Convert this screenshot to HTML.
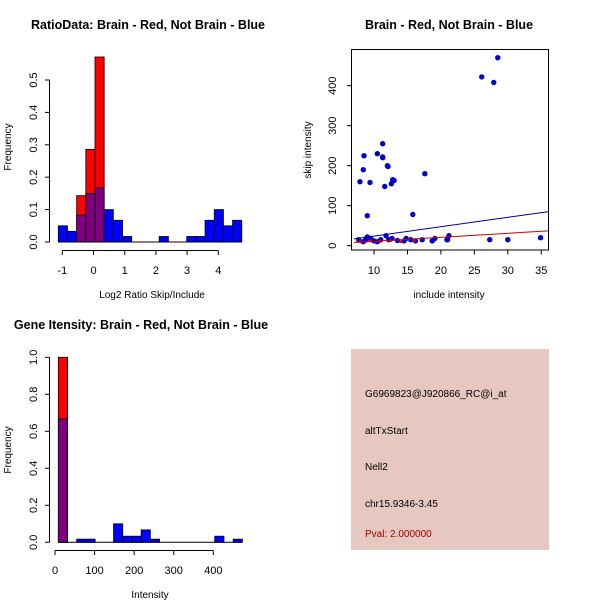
<!DOCTYPE html>
<html><head><meta charset="utf-8"><style>
body{margin:0;background:#fff;}
svg{display:block;font-family:"Liberation Sans",sans-serif;}
</style></head><body>
<svg id="c" width="600" height="600" viewBox="0 0 600 600">
<rect width="600" height="600" fill="#fff"/>
</svg>
<script>
// Panel 1: ratio histogram
const ratioStart = -1.128, ratioWidth = 0.294;
const ratioBlue = [0.05,0.033,0.083,0.15,0.167,0.1,0.067,0.017,0,0,0,0.017,0,0,0.017,0.017,0.067,0.1,0.05,0.067];
const ratioRed  = [0,0,0.143,0.286,0.571,0,0,0,0,0,0,0,0,0,0,0,0,0,0,0];
const ratioXTicks = [-1,0,1,2,3,4];
const ratioYTicks = [0,0.1,0.2,0.3,0.4,0.5];
// Panel 2: scatter
const scX = [26.1,28.5,27.9,11.3,10.5,11.3,11.3,8.5,8.4,12,12.1,7.9,9.4,12.6,12.8,13,11.6,17.6,9,15.8,7.7,8.4,8.8,9,9.5,10,10.5,11,11.8,12.2,12.7,13.5,14.5,14.8,15.5,16.2,17.2,18.7,19.1,20.9,21,21.2,27.3,30,34.9];
const scY = [422,470,408,255,230,222,220,225,190,200,198,160,158,155,165,163,148,180,75,78,15,10,15,22,18,12,10,15,25,15,18,13,12,18,15,12,15,12,18,15,15,25,15,15,20];
const redX = [8,9.5,11,12.5,14,16];
const redY = [10,12,11,13,10,12];
const blueLine = [[7,17],[36,85]];
const redLine = [[7,8],[36,37]];
const scXTicks = [10,15,20,25,30,35];
const scYTicks = [0,100,200,300,400];
// Panel 3: intensity histogram
const intStart = 8.4, intWidth = 23.25;
const intBlue = [0.667,0,0.017,0.017,0,0,0.1,0.033,0.033,0.067,0.017,0,0,0,0,0,0,0.033,0,0.017];
const intRed  = [1.0,0,0,0,0,0,0,0,0,0,0,0,0,0,0,0,0,0,0,0];
const intXTicks = [0,100,200,300,400];
const intYTicks = [0,0.2,0.4,0.6,0.8,1.0];

const svg = document.getElementById('c');
const NS = 'http://www.w3.org/2000/svg';
function el(tag, attrs, text){
  const e = document.createElementNS(NS, tag);
  for (const k in attrs) e.setAttribute(k, attrs[k]);
  if (text !== undefined) e.textContent = text;
  svg.appendChild(e);
  return e;
}
function fmt(v, d){ return v.toFixed(d); }

// ---------- Panel 1 ----------
const x1 = v => 62.3 + (v + 1) * 31.2;
const y1 = v => 242 - v * 324;
let t = el('text',{x:148,y:29,'text-anchor':'middle','font-size':12.5,'font-weight':'bold'},'RatioData: Brain - Red, Not Brain - Blue');
 
ratioBlue.forEach((b,i)=>{
  const r = ratioRed[i], a = ratioStart + i*ratioWidth, bEnd = a + ratioWidth;
  const xa = x1(a), w = x1(bEnd) - xa;
  if (r > b){ const e = el('rect',{x:xa,y:y1(r),width:w,height:y1(0)-y1(r),fill:'#ff0000',stroke:'#000','stroke-width':0.8});
      }
  if (b > r){ const e = el('rect',{x:xa,y:y1(b),width:w,height:y1(0)-y1(b),fill:'#0000ff',stroke:'#000','stroke-width':0.8});
      }
  const m = Math.min(r,b);
  if (m > 0){ const e = el('rect',{x:xa,y:y1(m),width:w,height:y1(0)-y1(m),fill:'#7f007f',stroke:'#000','stroke-width':0.8});
      }
});
let ln = el('line',{x1:x1(ratioStart),x2:x1(ratioStart+20*ratioWidth),y1:y1(0),y2:y1(0),stroke:'#000'});
 
el('line',{x1:x1(ratioXTicks[0]),x2:x1(ratioXTicks[ratioXTicks.length-1]),y1:250.5,y2:250.5,stroke:'#000'});
ratioXTicks.forEach(v=>{
  el('line',{x1:x1(v),x2:x1(v),y1:250.5,y2:255,stroke:'#000'});
  t = el('text',{x:x1(v),y:274,'text-anchor':'middle','font-size':11},String(v));
   
});
el('line',{x1:49.5,x2:49.5,y1:y1(0),y2:y1(0.5),stroke:'#000'});
ratioYTicks.forEach(v=>{
  el('line',{x1:45,x2:49.5,y1:y1(v),y2:y1(v),stroke:'#000'});
  t = el('text',{x:37,y:y1(v),'text-anchor':'middle','font-size':11,transform:`rotate(-90 37 ${y1(v)})`},fmt(v,1));
   
});
t = el('text',{x:152,y:298,'text-anchor':'middle','font-size':10},'Log2 Ratio Skip/Include');
 
t = el('text',{x:11,y:147,'text-anchor':'middle','font-size':10,transform:'rotate(-90 11 147)'},'Frequency');
 

// ---------- Panel 2 ----------
const x2 = v => 374 + (v - 10) * 6.69;
const y2 = v => 245.7 - v * 0.4;
t = el('text',{x:449,y:29,'text-anchor':'middle','font-size':12.5,'font-weight':'bold'},'Brain - Red, Not Brain - Blue');
 
let box = el('rect',{x:351.5,y:49.5,width:197,height:200.5,fill:'none',stroke:'#000'});
 
scX.forEach((v,i)=>{
  const p = el('circle',{cx:x2(v),cy:y2(scY[i]),r:2.7,fill:'#0000cc'});
   
});
redX.forEach((v,i)=>{
  const p = el('circle',{cx:x2(v),cy:y2(redY[i]),r:1.5,fill:'#dd0000'});
   
});
ln = el('line',{x1:x2(blueLine[0][0]),y1:y2(blueLine[0][1]),x2:x2(blueLine[1][0]),y2:y2(blueLine[1][1]),stroke:'#00008b'});
 
ln = el('line',{x1:x2(redLine[0][0]),y1:y2(redLine[0][1]),x2:x2(redLine[1][0]),y2:y2(redLine[1][1]),stroke:'#cc0000'});
 
scXTicks.forEach(v=>{
  el('line',{x1:x2(v),x2:x2(v),y1:250,y2:254.5,stroke:'#000'});
  t = el('text',{x:x2(v),y:274,'text-anchor':'middle','font-size':11},String(v));
   
});
scYTicks.forEach(v=>{
  el('line',{x1:347,x2:351.5,y1:y2(v),y2:y2(v),stroke:'#000'});
  t = el('text',{x:336,y:y2(v),'text-anchor':'middle','font-size':11,transform:`rotate(-90 336 ${y2(v)})`},String(v));
   
});
t = el('text',{x:449,y:298,'text-anchor':'middle','font-size':10},'include intensity');
 
t = el('text',{x:311,y:150,'text-anchor':'middle','font-size':10,transform:'rotate(-90 311 150)'},'skip intensity');
 

// ---------- Panel 3 ----------
const x3 = v => 55 + v * 0.3958;
const y3 = v => 542.3 - v * 185;
t = el('text',{x:141,y:329,'text-anchor':'middle','font-size':12.5,'font-weight':'bold'},'Gene Itensity: Brain - Red, Not Brain - Blue');
 
intBlue.forEach((b,i)=>{
  const r = intRed[i], a = intStart + i*intWidth;
  const xa = x3(a), w = x3(a+intWidth) - xa;
  if (r > b){ const e = el('rect',{x:xa,y:y3(r),width:w,height:y3(0)-y3(r),fill:'#ff0000',stroke:'#000','stroke-width':0.8});
      }
  if (b > r){ const e = el('rect',{x:xa,y:y3(b),width:w,height:y3(0)-y3(b),fill:'#0000ff',stroke:'#000','stroke-width':0.8});
      }
  const m = Math.min(r,b);
  if (m > 0){ const e = el('rect',{x:xa,y:y3(m),width:w,height:y3(0)-y3(m),fill:'#7f007f',stroke:'#000','stroke-width':0.8});
      }
});
ln = el('line',{x1:x3(intStart),x2:x3(intStart+20*intWidth),y1:y3(0),y2:y3(0),stroke:'#000'});
 
el('line',{x1:x3(0),x2:x3(400),y1:550.5,y2:550.5,stroke:'#000'});
intXTicks.forEach(v=>{
  el('line',{x1:x3(v),x2:x3(v),y1:550.5,y2:555,stroke:'#000'});
  t = el('text',{x:x3(v),y:574,'text-anchor':'middle','font-size':11},String(v));
   
});
el('line',{x1:49.5,x2:49.5,y1:y3(0),y2:y3(1),stroke:'#000'});
intYTicks.forEach(v=>{
  el('line',{x1:45,x2:49.5,y1:y3(v),y2:y3(v),stroke:'#000'});
  t = el('text',{x:37,y:y3(v),'text-anchor':'middle','font-size':11,transform:`rotate(-90 37 ${y3(v)})`},fmt(v,1));
   
});
t = el('text',{x:150,y:598,'text-anchor':'middle','font-size':10},'Intensity');
 
t = el('text',{x:11,y:450,'text-anchor':'middle','font-size':10,transform:'rotate(-90 11 450)'},'Frequency');
 

// ---------- Panel 4: info box ----------
box = el('rect',{x:351,y:349,width:198,height:201,fill:'#e6c8c0'});
 
const infoLines = [['G6969823@J920866_RC@i_at',397,'#000','probe-id'],['altTxStart',434,'#000','event-type'],['Nell2',470,'#000','gene-name'],['chr15.9346-3.45',507,'#000','location'],['Pval: 2.000000',537,'#a00000','p-value']];
infoLines.forEach(l=>{
  t = el('text',{x:365,y:l[1],'font-size':10,fill:l[2]},l[0]);
  
  
});
</script>
</body></html>
